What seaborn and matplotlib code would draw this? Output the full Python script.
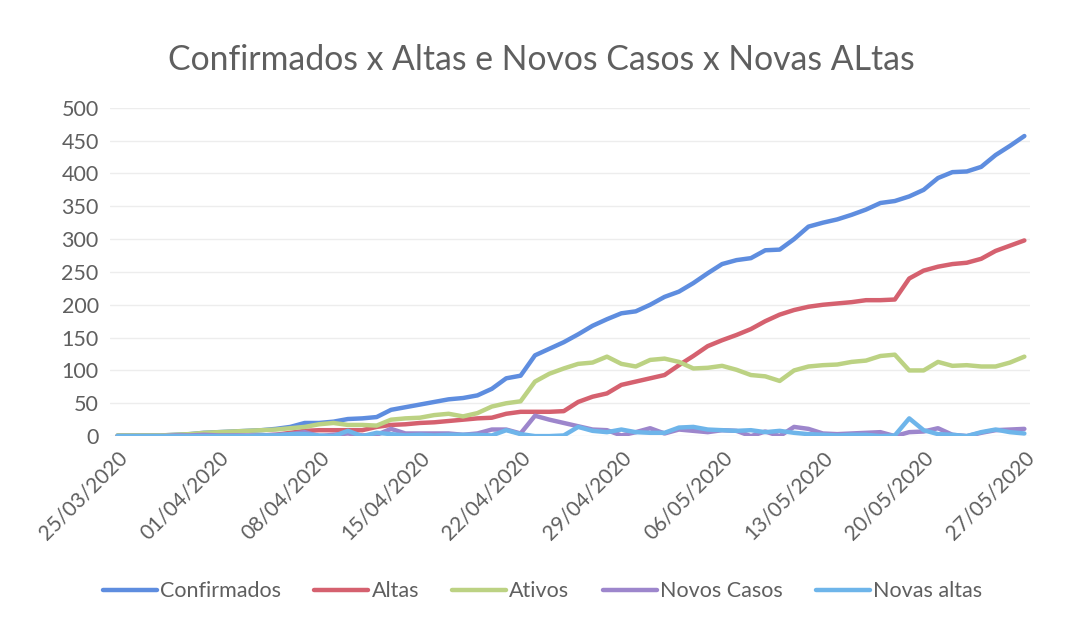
import pandas as pd
import numpy as np
import seaborn as sns
from matplotlib import pyplot as plt

# dados diarios 25/03/2020 .. 27/05/2020
datas = pd.date_range('2020-03-25', '2020-05-27', freq='D')

confirmados = [1, 1, 1, 1, 2, 3, 5, 6, 7, 8,
               9, 11, 14, 20, 20, 22, 26, 27, 29, 40,
               44, 48, 52, 56, 58, 62, 72, 88, 92, 123,
               133, 143, 155, 168, 178, 187, 190, 200, 212, 220,
               233, 248, 262, 268, 271, 283, 284, 300, 319, 325,
               330, 337, 345, 355, 358, 365, 375, 393, 402, 403,
               410, 428, 442, 457]
altas = [0, 0, 0, 0, 0, 0, 0, 0, 0, 0,
         1, 2, 5, 8, 9, 9, 9, 9, 14, 17,
         18, 20, 21, 23, 25, 27, 28, 34, 37, 37,
         37, 38, 52, 60, 65, 78, 83, 88, 93, 108,
         122, 137, 146, 154, 163, 175, 185, 192, 197, 200,
         202, 204, 207, 207, 208, 240, 252, 258, 262, 264,
         270, 282, 290, 298]
ativos = [1, 1, 1, 1, 2, 3, 5, 6, 7, 8,
          9, 10, 12, 14, 18, 20, 17, 17, 16, 25,
          27, 28, 32, 34, 30, 35, 45, 50, 53, 83,
          95, 103, 110, 112, 121, 110, 106, 116, 118, 113,
          103, 104, 107, 101, 93, 91, 84, 100, 106, 108,
          109, 113, 115, 122, 124, 100, 100, 113, 107, 108,
          106, 106, 112, 121]
novos_casos = [0, 0, 0, 0, 1, 1, 2, 1, 1, 1,
               1, 2, 3, 6, 0, 2, 4, 1, 2, 11,
               4, 4, 4, 4, 2, 4, 10, 10, 4, 31,
               25, 20, 15, 10, 9, 1, 6, 12, 4, 10,
               8, 6, 9, 8, 0, 7, 0, 14, 11, 4,
               3, 4, 5, 6, 0, 6, 7, 12, 2, 0,
               5, 9, 10, 11]
novas_altas = [0, 0, 0, 0, 0, 0, 0, 0, 0, 0,
               1, 1, 3, 3, 1, 0, 8, 0, 5, 3,
               1, 2, 1, 2, 2, 2, 1, 9, 3, 0,
               0, 1, 14, 8, 6, 10, 6, 5, 5, 13,
               14, 10, 9, 8, 9, 6, 8, 5, 3, 2,
               1, 2, 2, 0, 1, 27, 9, 3, 2, 0,
               6, 10, 6, 4]

series = ['Confirmados', 'Altas', 'Ativos', 'Novos Casos', 'Novas altas']
cores = ['#5e8ddf', '#d5616f', '#bcd283', '#9d86cc', '#6eb5ea']

tick_datas = ['2020-03-25', '2020-04-01', '2020-04-08', '2020-04-15', '2020-04-22',
              '2020-04-29', '2020-05-06', '2020-05-13', '2020-05-20', '2020-05-27']
tick_labels = ['25/03/2020', '01/04/2020', '08/04/2020', '15/04/2020', '22/04/2020',
               '29/04/2020', '06/05/2020', '13/05/2020', '20/05/2020', '27/05/2020']

df = pd.DataFrame({'data': datas, 'Confirmados': confirmados, 'Altas': altas,
                   'Ativos': ativos, 'Novos Casos': novos_casos, 'Novas altas': novas_altas})
df = df.melt(id_vars='data', var_name='serie', value_name='valor')

sns.set_theme(style='whitegrid')
plt.rcParams['font.family'] = ['Lato', 'DejaVu Sans']
cinza = '#5f5f5f'

fig = plt.figure(figsize=(10.66, 6.23), dpi=100)
ax = fig.add_axes([0.103, 0.300, 0.863, 0.527])

sns.lineplot(data=df, x='data', y='valor', hue='serie', hue_order=series,
             palette=cores, linewidth=3.2, ax=ax, legend=False)

ax.set_ylim(0, 500)
ax.set_yticks(range(0, 501, 50))
ax.set_xlim(pd.Timestamp('2020-03-25') - pd.Timedelta(hours=13),
            pd.Timestamp('2020-05-27') + pd.Timedelta(hours=9))
ax.set_xticks(pd.to_datetime(tick_datas))
ax.set_xticklabels(tick_labels, rotation=45, ha='right', rotation_mode='anchor')
ax.tick_params(axis='both', colors=cinza, length=0)
ax.tick_params(axis='x', pad=8, labelsize=15)
ax.tick_params(axis='y', pad=8, labelsize=15.5)
ax.set_xlabel('')
ax.set_ylabel('')
ax.grid(axis='x', visible=False)
ax.grid(axis='y', color='#ededed', linewidth=1)
for s in ax.spines.values():
    s.set_visible(False)

fig.text(0.508, 0.904, 'Confirmados x Altas e Novos Casos x Novas ALtas',
         ha='center', va='center', fontsize=24.3, color=cinza)

handles = [plt.Line2D([], [], color=c, linewidth=3.2) for c in cores]
fig.legend(handles, series, loc='center', bbox_to_anchor=(0.509, 0.051), ncol=5,
           frameon=False, fontsize=15.5, labelcolor=cinza, handlelength=2.5,
           handletextpad=0.15, columnspacing=1.55)

fig.savefig('out.png', dpi=100, facecolor='white')
